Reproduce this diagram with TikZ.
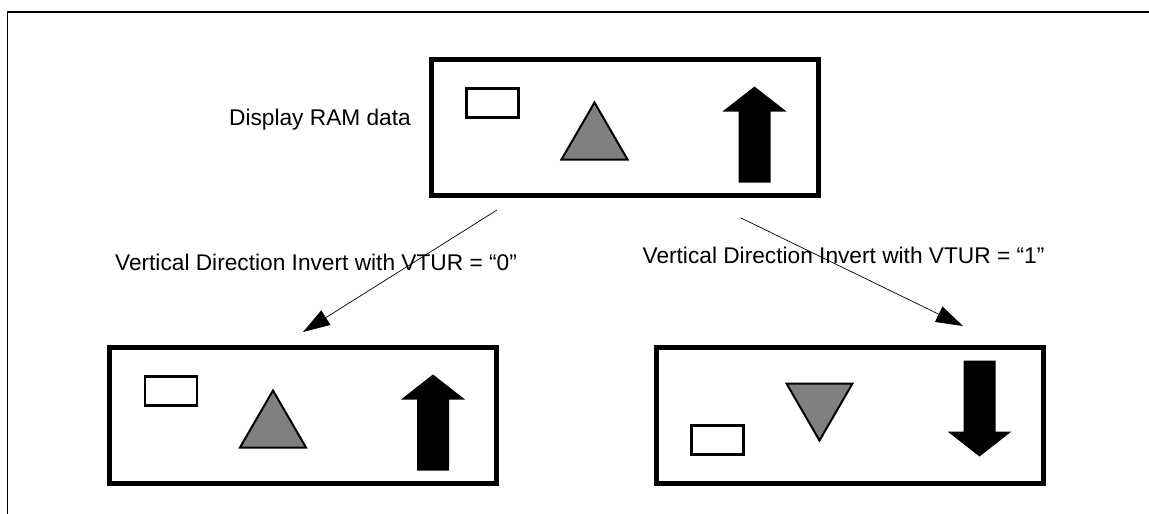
\documentclass[tikz,border=0pt]{standalone}
\usepackage{fontspec}
\setmainfont{Liberation Sans}
\usetikzlibrary{arrows.meta}

\begin{document}
\begin{tikzpicture}[x=1pt, y=1pt,
    panel/.style={draw, line width=5pt, minimum width=387pt,
      minimum height=136pt, inner sep=0pt},
    caption/.style={font=\fontsize{22.7}{27}\selectfont, inner sep=0pt,
      anchor=base},
    cellbox/.style={draw, line width=2.5pt},
    glyph/.style={draw, line width=2pt, fill=gray},
    flow/.style={line width=0.7pt, -{Triangle[length=27pt, width=17pt]}},
    ramdata/.pic={
      \draw[cellbox] (-158,10) rectangle (-106,39);
      \draw[glyph] (-30,25) -- (-63,-32) -- (3,-32) -- cycle;
      \fill (130,41) -- (162,16) -- (146,16) -- (146,-55) -- (114,-55)
        -- (114,16) -- (98,16) -- cycle;
    }]
  \useasboundingbox (0,0) rectangle (1149,-514);
  \draw[line width=1.5pt] (7.5,-514) -- (7.5,-12) -- (1149,-12);

  \node[panel] (ram) at (624.5,-127.5) {};
  \node[panel] (vtur0) at (303,-415.5) {};
  \node[panel] (vtur1) at (849.5,-415.5) {};
  \pic at (ram.center) {ramdata};
  \pic at (vtur0.center) {ramdata};
  \pic[yscale=-1] at (vtur1.center) {ramdata};

  \node[caption] (ramlabel) at (320,-125) {Display RAM data};
  \node[caption] (vtur0label) at (316,-270) {Vertical Direction Invert with VTUR = “0”};
  \node[caption] (vtur1label) at (843.5,-263) {Vertical Direction Invert with VTUR = “1”};

  \coordinate (out0) at (497,-210);
  \coordinate (in0) at (303,-332);
  \coordinate (out1) at (741,-218);
  \coordinate (in1) at (963,-326);
  \draw[flow] (out0) -- (in0);
  \draw[flow] (out1) -- (in1);
\end{tikzpicture}
\end{document}
